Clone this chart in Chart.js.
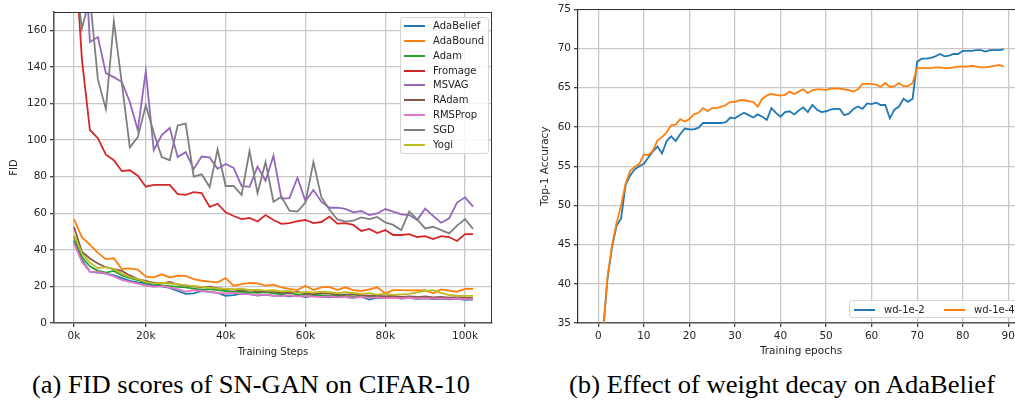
<!DOCTYPE html>
<html>
<head>
<meta charset="utf-8">
<script src="https://cdn.jsdelivr.net/npm/chart.js@4.4.1/dist/chart.umd.min.js"></script>
<style>
  html, body { margin:0; padding:0; background:#fff; width:1015px; height:400px; overflow:hidden; position:relative; }
  .box { position:absolute; }
  .legend { position:absolute; background:rgba(255,255,255,0.85); border:1px solid #d6d6d6; border-radius:3px; font-family:'DejaVu Sans', sans-serif; font-size:10px; color:#222; box-sizing:border-box; }
  .legend .row { position:absolute; height:12px; line-height:12px; white-space:nowrap; }
  .legend .sw { position:absolute; height:2px; }
  .cap { position:absolute; font-family:'Liberation Serif','Times New Roman',serif; font-size:25px; line-height:25px; color:#000; white-space:nowrap; transform-origin:left top; }
</style>
</head>
<body>
<div class="box" style="left:0;top:0;width:510px;height:365px"><canvas id="c1"></canvas></div>
<div class="box" style="left:510px;top:0;width:530px;height:365px"><canvas id="c2"></canvas></div>
<div id="leg1" class="legend" style="left:400px;top:17px;width:89px;height:137px"></div>
<div id="leg2" class="legend" style="left:849px;top:300px;width:200px;height:18px"></div>
<div id="capA" class="cap" style="left:32px;top:372px">(a) FID scores of SN-GAN on CIFAR-10</div>
<div id="capB" class="cap" style="left:569px;top:372px">(b) Effect of weight decay on AdaBelief</div>
<script>
// ---------- Left chart data (FID vs training steps, in thousands) ----------
const stepsK = [2,4,6,8,10,12,14,16,18,20,22,24,26,28,30,32,34,36,38,40,42,44,46,48,50,52,54,56,58,60,62,64,66,68,70,72,74,76,78,80,82,84,86,88,90,92,94,96,98,100,102];
const fidTickValues = [2,20,40,60,80,100];
const fidTickLabels = ['0k','20k','40k','60k','80k','100k'];
const fidYTicks = [0,20,40,60,80,100,120,140,160];

const adaBelief = [45,34.5,28,27.5,27,26,24.5,23,22.2,21.5, 20.5,20,19.2,17.5,15.9,16.2,17.5,17,16.5,14.9, 15.2,16,15.8,15,15.5,14.8,15.3,14.6,15,14.2, 14.8,14.5,14,14.6,14.2,13.8,14.4,12.8,13.9,13.6, 14,13.3,13.7,13.2,13.5,13,13.4,12.9,13.2,12.7, 12.8];
const adaBound = [56.8,46.8,42.8,38.3,34.9,35.4,29.5,29.9,29.2,25.3, 24.9,26.6,24.9,25.9,25.8,24,23.1,22.6,22.2,24.6, 20.4,21.3,21.9,21.6,20.4,21,19.5,18.6,18,20.4, 18,19.5,19.7,18,19.5,18,17.5,18.4,19.5,16.2, 18,18,17.8,17.8,18,16.2,18.4,17.7,17.1,18.6, 18.6];
const adam = [47,36,31,28.5,27.5,28.5,26,24.5,23.5,22, 21.5,20.5,20.2,19.8,19.5,18.8,18.2,18.5,18,17.5, 17,17.2,16.8,16.5,16.9,16.2,15.9,16.3,15.7,15.4, 15.6,15.2,15,15.3,14.8,14.6,14.9,14.4,14.6,14.2, 14.5,14,14.3,13.8,14.1,13.7,13.9,13.5,13.8,13.4, 13.3];
const fromage = [212,144,105.5,101,92,89,83,83.5,80.5,74.5, 75.5,75.5,75.5,70.5,70,71.5,71,63.5,65.2,60.5, 58.5,56.8,57.4,55.5,59,56.3,54.2,54.6,55.7,56.3, 54.6,55.2,58.2,54.3,54.6,53.6,50.3,51.4,49.2,50.8, 48.1,48.1,48.6,47,47.5,45.9,47.5,47,44.8,48.6, 48.6];
const msvag = [240,230,153.6,156.3,136.6,134.4,131.7,120.8,105.5,137.7, 94.5,102.7,106.6,90.7,93.4,84.2,91,90.5,84.3,86.9, 84.8,74.9,74.4,85.5,77.8,91.4,68,68.3,79.4,66.7, 72.7,66.3,63,63.1,62.4,60.5,61.2,59,59.9,62.3, 60.9,59.4,59,56.3,62.5,58.6,54.8,57.2,65.8,68.7, 63.6];
const radam = [52.5,39,35.3,32.5,30.5,29.5,28.5,26,24,23, 22,21.5,22.5,21,20.5,20,19.5,19.8,19,18.5, 18.2,17.8,18,17.2,17.5,17,16.8,16.4,17,16.2, 15.8,16.5,16,15.6,15.5,15.8,15.2,15,14.9,14.6, 14.8,14.3,14.5,14.2,14.6,14,14.3,13.9,14.1,13.8, 13.6];
const rmsprop = [43.5,33.5,28,28,27,25.5,23.5,22.5,21.5,20.5, 19.8,20.2,19.5,18.5,17.2,18,17.6,17,16.4,16.2, 16.5,15.9,15.6,15.2,15.5,15,14.7,15.1,14.6,14.8, 14.4,14.2,14.6,14,14.3,13.9,14.2,13.7,14,13.6, 13.8,13.5,13.8,13.4,13.6,13.3,13.5,13.2,13.4,13.1, 13];
const sgd = [196,161,178,133,117,165,131,96,101.6,119, 104,90.7,89,108,109,80,81.3,74.3,95,74.9, 74.9,70,94,71,88,66.3,69,61.4,60.9,65.8, 88,68.8,62,56.6,55.4,55.9,57.7,56.8,58,55, 53.6,50.8,60.9,56.6,51.7,52.6,50.8,49,53.2,56.8, 51.4];
const yogi = [48,38,33,30,30.5,29.5,27,25,24,22.5, 21.5,22,21.6,21.2,20.6,20.2,19.7,19.3,18.9,18.6, 18.4,18.8,17.9,18.2,17.7,17.9,17.3,17.5,16.5,17, 16.6,17.2,16.8,16.3,16.9,16.4,15.9,16.3,15.5,15.9, 15.4,15.6,15.9,16.8,17.6,18,16.5,15.3,14.9,14.8, 14.8];

const fidNames = ['AdaBelief','AdaBound','Adam','Fromage','MSVAG','RAdam','RMSProp','SGD','Yogi'];
const fidSeries = [adaBelief, adaBound, adam, fromage, msvag, radam, rmsprop, sgd, yogi];
const fidColors = ['#1f77b4','#ff7f0e','#2ca02c','#d62728','#9467bd','#8c564b','#e377c2','#7f7f7f','#bcbd22'];

// ---------- Right chart data (Top-1 accuracy vs epochs) ----------
const epochs = [0,1,2,3,4,5,6,7,8,9,10,11,12,13,14,15,16,17,18,19,20,21,22,23,24,25,26,27,28,29,30,31,32,33,34,35,36,37,38,39,40,41,42,43,44,45,46,47,48,49,50,51,52,53,54,55,56,57,58,59,60,61,62,63,64,65,66,67,68,69,70,71,72,73,74,75,76,77,78,79,80,81,82,83,84,85,86,87,88,89];
const accXTicks = [0,10,20,30,40,50,60,70,80,90];
const accYTicks = [35,40,45,50,55,60,65,70,75];
const wd1e2 = [20,33.6,40.5,44.6,47.4,48.3,52.6,53.8,54.6,55, 55.3,56.1,56.9,57.5,56.6,58.2,58.8,58.2,59.1,59.8, 59.7,59.7,59.9,60.5,60.5,60.5,60.5,60.5,60.6,61.2, 61.1,61.5,61.8,61.5,61.2,61.6,61.3,60.9,62.4,61.8, 61.3,61.9,62,61.6,62.1,62.5,61.9,62.8,62.2,61.9, 62,62.2,62.3,62.3,61.5,61.7,62.3,62.6,62.3,63, 62.9,63.1,62.8,62.8,61.1,62.2,62.6,63.6,63.2,63.6, 68.3,68.7,68.7,68.8,69,69.3,69,69.1,69.3,69.3, 69.7,69.7,69.7,69.8,69.8,69.6,69.8,69.8,69.8,69.9];
const wd1e4 = [20,33.4,40.8,44.8,47.7,50,52.8,54.4,54.9,55.3, 56.5,56.4,57,58.3,58.7,59.3,60.2,60.3,61,60.7, 61,61.6,61.8,62.4,62,62.4,62.4,62.6,62.8,63.2, 63.2,63.4,63.4,63.3,63.2,62.6,63.6,64,64.2,64.1, 64,64.1,64.5,64.2,64.5,64.8,64.3,64.7,64.8,64.8, 64.7,64.9,64.9,64.9,64.8,64.7,64.5,64.8,65.5,65.5, 65.5,65.4,65.1,65.6,65.1,65.2,65.6,65.2,65.2,65.6, 67.5,67.5,67.5,67.5,67.6,67.6,67.5,67.5,67.6,67.7, 67.7,67.7,67.8,67.7,67.6,67.6,67.7,67.8,67.9,67.7];
const accNames = ['wd-1e-2','wd-1e-4'];
const accSeries = [wd1e2, wd1e4];
const accColors = ['#1f77b4','#ff7f0e'];

// ---------- common styling ----------
const FONT = "'DejaVu Sans', sans-serif";
const GRID = '#c8c8c8';
const TEXT = '#262626';

const spines = {
  id: 'spines',
  afterDatasetsDraw(chart, args, opts) {
    const {ctx, chartArea: a} = chart;
    ctx.save();
    ctx.strokeStyle = opts.color || '#333';
    ctx.lineWidth = 1;
    ctx.beginPath();
    ctx.moveTo(a.left, Math.round(a.top) + 0.5);
    ctx.lineTo(a.right, Math.round(a.top) + 0.5);
    if (opts.right) {
      ctx.moveTo(Math.round(a.right) - 0.5, a.top);
      ctx.lineTo(Math.round(a.right) - 0.5, a.bottom);
    }
    ctx.stroke();
    ctx.restore();
  }
};

function mkDatasets(xs, series, names, colors) {
  return series.map((s, i) => ({
    label: names[i],
    data: xs.map((x, j) => ({x: x, y: s[j]})),
    borderColor: colors[i],
    backgroundColor: colors[i],
    borderWidth: 1.8,
    pointRadius: 0,
    tension: 0,
    fill: false,
    order: series.length - i
  }));
}

function axis(opts) {
  return Object.assign({
    type: 'linear',
    grid: { color: GRID, lineWidth: 1.3, tickColor: '#444', tickLength: 4, drawTicks: true },
    ticks: { color: TEXT, font: { family: FONT, size: 10.5 }, padding: 3, autoSkip: false, maxRotation: 0 },
  }, opts);
}

// ---------- Chart 1 ----------
new Chart(document.getElementById('c1'), {
  type: 'line',
  data: { datasets: mkDatasets(stepsK, fidSeries, fidNames, fidColors) },
  options: {
    responsive: true, maintainAspectRatio: false, animation: false, devicePixelRatio: 1,
    layout: { padding: { left: 0, right: 18, top: 12, bottom: 0 } },
    plugins: { legend: { display: false }, tooltip: { enabled: false }, spines: { color: '#333', right: true } },
    scales: {
      x: axis({
        min: -3, max: 106.75,
        afterBuildTicks: s => { s.ticks = fidTickValues.map(v => ({value: v})); },
        ticks: { color: TEXT, font: { family: FONT, size: 10.5 }, padding: 3, autoSkip: false, maxRotation: 0,
                 callback: (v) => fidTickLabels[fidTickValues.indexOf(v)] },
        border: { display: true, color: '#555', width: 1.6 },
        title: { display: true, text: 'Training Steps', color: TEXT, font: { family: FONT, size: 10, lineHeight: 1.2 }, padding: { top: 0, bottom: 7 } },
        afterFit: s => { s.height = 42; }
      }),
      y: axis({
        min: 0, max: 170,
        afterBuildTicks: s => { s.ticks = fidYTicks.map(v => ({value: v})); },
        border: { display: true, color: '#555', width: 1.6 },
        title: { display: true, text: 'FID', color: TEXT, font: { family: FONT, size: 10, lineHeight: 1.2 }, padding: { top: 8, bottom: 0 } },
        afterFit: s => { s.width = 54; }
      })
    }
  },
  plugins: [spines]
});

// ---------- Chart 2 ----------
new Chart(document.getElementById('c2'), {
  type: 'line',
  data: { datasets: mkDatasets(epochs, accSeries, accNames, accColors) },
  options: {
    responsive: true, maintainAspectRatio: false, animation: false, devicePixelRatio: 1,
    layout: { padding: { left: 0, right: 16, top: 6, bottom: 0 } },
    plugins: { legend: { display: false }, tooltip: { enabled: false }, spines: { color: '#333', right: false } },
    scales: {
      x: axis({
        min: -4.45, max: 93.45,
        afterBuildTicks: s => { s.ticks = accXTicks.map(v => ({value: v})); },
        border: { display: true, color: '#555', width: 1.6 },
        title: { display: true, text: 'Training epochs', color: TEXT, font: { family: FONT, size: 10.5, lineHeight: 1.2 }, padding: { top: 0, bottom: 7 } },
        afterFit: s => { s.height = 42; }
      }),
      y: axis({
        min: 35, max: 75,
        afterBuildTicks: s => { s.ticks = accYTicks.map(v => ({value: v})); },
        border: { display: true, color: '#333', width: 1.2 },
        title: { display: true, text: 'Top-1 Accuracy', color: TEXT, font: { family: FONT, size: 10.5, lineHeight: 1.2 }, padding: { top: 29, bottom: 0 } },
        afterFit: s => { s.width = 68; }
      })
    }
  },
  plugins: [spines]
});

// ---------- HTML legends ----------
(function () {
  const l1 = document.getElementById('leg1');
  fidNames.forEach((n, i) => {
    const cy = 25 + i * 14.85 - 17;
    const sw = document.createElement('div');
    sw.className = 'sw';
    sw.style.cssText = `left:3px;top:${cy - 1}px;width:21px;background:${fidColors[i]}`;
    l1.appendChild(sw);
    const r = document.createElement('div');
    r.className = 'row';
    r.style.cssText = `left:32px;top:${cy - 6}px`;
    r.textContent = n;
    l1.appendChild(r);
  });
  const l2 = document.getElementById('leg2');
  const xs = [[4, 34], [94, 124]];
  accNames.forEach((n, i) => {
    const cy = 9;
    const sw = document.createElement('div');
    sw.className = 'sw';
    sw.style.cssText = `left:${xs[i][0]}px;top:${cy - 1}px;width:21px;background:${accColors[i]}`;
    l2.appendChild(sw);
    const r = document.createElement('div');
    r.className = 'row';
    r.style.cssText = `left:${xs[i][1]}px;top:${cy - 6}px`;
    r.textContent = n;
    l2.appendChild(r);
  });
  // captions: fit to the widths measured in the reference
  [['capA', 438], ['capB', 426]].forEach(([id, w]) => {
    const el = document.getElementById(id);
    const k = w / el.getBoundingClientRect().width;
    el.style.transform = `scaleX(${k})`;
  });
})();
</script>
</body>
</html>
